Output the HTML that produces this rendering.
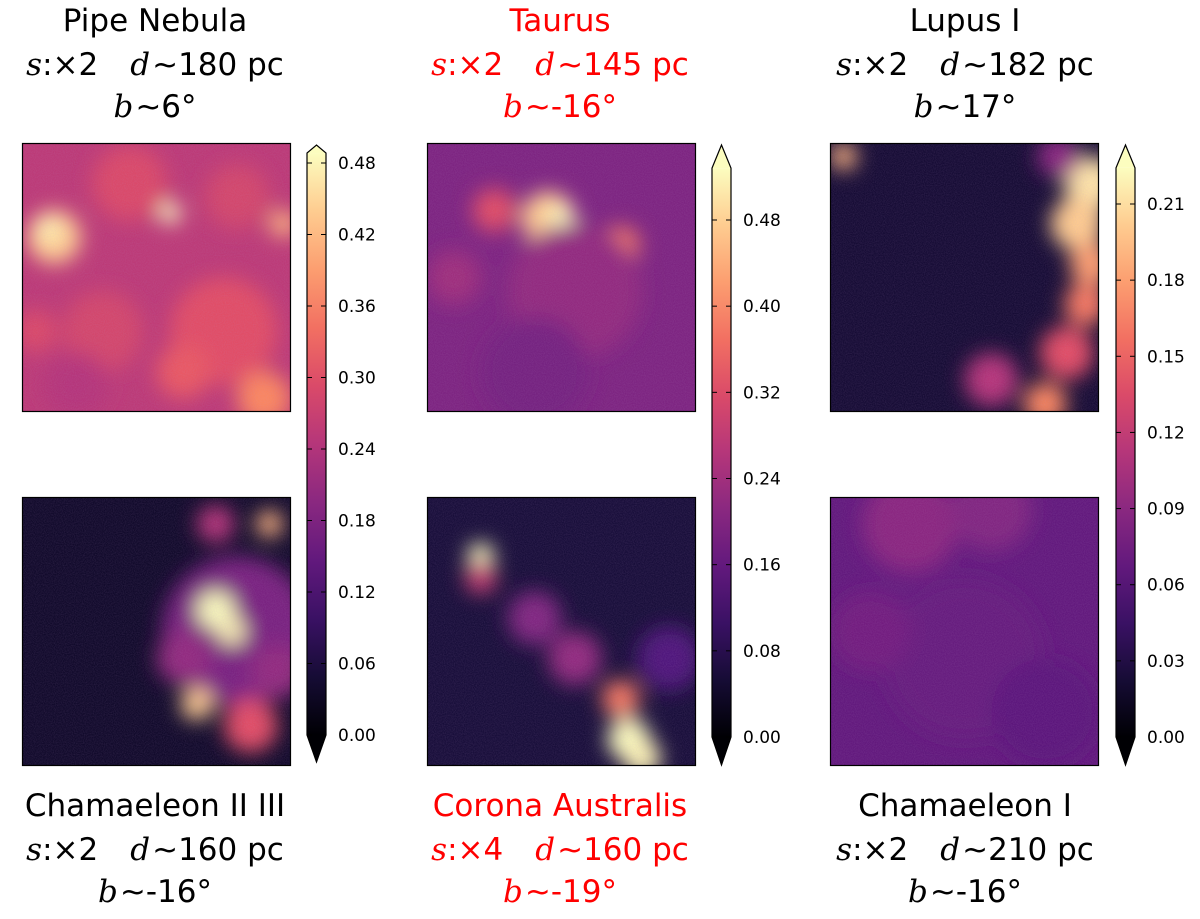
<!DOCTYPE html>
<html><head><meta charset="utf-8"><style>
body{margin:0;background:#fff;}
svg text{font-family:"DejaVu Sans","Liberation Sans",sans-serif;}
.m{font-family:"DejaVu Serif","Liberation Serif",serif;font-style:italic;}
</style></head><body>
<svg id="fig" width="1200" height="914" viewBox="0 0 1200 914" xmlns="http://www.w3.org/2000/svg">
<defs>
<filter id="blur" x="-50%" y="-50%" width="200%" height="200%"><feGaussianBlur stdDeviation="10"/></filter>
<filter id="noise"><feTurbulence type="fractalNoise" baseFrequency="0.9" numOctaves="2" seed="3"/><feColorMatrix type="matrix" values="0 0 0 0 0.5  0 0 0 0 0.3  0 0 0 0 0.6  0 0 0 0.9 -0.25"/></filter>
</defs>
<g id="root"></g>
</svg>
<script>
const magma=[[0,[0,0,4]],[0.13,[28,16,68]],[0.25,[79,18,123]],[0.38,[129,37,129]],[0.5,[181,54,122]],[0.63,[229,80,100]],[0.75,[251,135,97]],[0.88,[254,194,135]],[1,[252,253,191]]];
function cmap(t){t=Math.max(0,Math.min(1,t));for(let i=1;i<magma.length;i++){if(t<=magma[i][0]){const a=magma[i-1],b=magma[i];const f=(t-a[0])/(b[0]-a[0]);const c=a[1].map((v,k)=>Math.round(v+(b[1][k]-v)*f));return`rgb(${c})`;}}return'rgb(252,253,191)';}
const panelNames=["pipe-nebula","taurus","lupus-i","chamaeleon-ii-iii","corona-australis","chamaeleon-i"];
const panelBase=[0.52,0.37,0.10,0.08,0.11,0.30];
const blobsPipe=[[0.12,0.35,0.1,0.9],[0.1,0.32,0.05,0.97],[0.55,0.26,0.04,1],[0.97,0.3,0.05,0.85],[0.75,0.7,0.2,0.62],[0.3,0.7,0.15,0.58],[0.9,0.95,0.1,0.75],[0.4,0.15,0.14,0.6],[0.6,0.85,0.1,0.65],[0.2,0.9,0.12,0.5],[0.8,0.2,0.12,0.58],[0.05,0.7,0.08,0.6]];
const blobsTaurus=[[0.45,0.28,0.1,0.9],[0.5,0.28,0.05,1],[0.25,0.25,0.08,0.62],[0.72,0.38,0.07,0.72],[0.55,0.55,0.25,0.42],[0.1,0.5,0.1,0.45],[0.4,0.85,0.2,0.35]];
const blobsLupus=[[0.97,0.15,0.1,0.95],[0.92,0.3,0.1,0.9],[0.97,0.45,0.08,0.8],[0.95,0.6,0.08,0.72],[0.88,0.78,0.1,0.62],[0.6,0.88,0.1,0.5],[0.05,0.05,0.05,0.85],[0.85,0.05,0.08,0.4],[0.8,0.97,0.08,0.75]];
const blobsChaII=[[0.8,0.5,0.28,0.36],[0.72,0.42,0.07,1],[0.78,0.5,0.05,0.98],[0.65,0.77,0.06,0.9],[0.92,0.1,0.05,0.85],[0.85,0.85,0.1,0.62],[0.72,0.1,0.07,0.5],[0.95,0.65,0.1,0.42],[0.6,0.6,0.1,0.42]];
const blobsCrA=[[0.2,0.22,0.05,1],[0.2,0.3,0.06,0.55],[0.4,0.45,0.1,0.38],[0.55,0.6,0.1,0.42],[0.75,0.9,0.08,1],[0.72,0.75,0.07,0.72],[0.8,0.97,0.07,0.98],[0.9,0.6,0.12,0.25]];
const blobsChaI=[[0.3,0.1,0.18,0.4],[0.6,0.05,0.15,0.38],[0.5,0.6,0.3,0.31],[0.15,0.5,0.15,0.34],[0.8,0.8,0.2,0.28]];
const panelBlobs=[blobsPipe,blobsTaurus,blobsLupus,blobsChaII,blobsCrA,blobsChaI];
const panelX=[22,427,830,22,427,830], panelY=[143,143,143,497,497,497], S=269;
const cbTicks1=["0.00","0.06","0.12","0.18","0.24","0.30","0.36","0.42","0.48"];
const cbTicks2=["0.00","0.08","0.16","0.24","0.32","0.40","0.48"];
const cbTicks3=["0.00","0.03","0.06","0.09","0.12","0.15","0.18","0.21"];
const cbMax=[0.49,0.53,0.225];
const cbTicks=[cbTicks1,cbTicks2,cbTicks3];
const cbX=[307,712,1116],cbTip=[145,145,145],cbBot=[762,765,765],cbZero=[735,737,737];
const cbTopVal=[[0.48,163],[0.48,220],[0.21,204]];
const titles=[["Pipe Nebula","2","180","6"],["Taurus","2","145","-16"],["Lupus I","2","182","17"],["Chamaeleon II III","2","160","-16"],["Corona Australis","4","160","-19"],["Chamaeleon I","2","210","-16"]];
const titleCx=[155,560,965,155,560,965];
const NS="http://www.w3.org/2000/svg";const root=document.getElementById('root');
function mk(t,a,p){const e=document.createElementNS(NS,t);for(const k in a)e.setAttribute(k,a[k]);(p||root).appendChild(e);return e;}
for(let i=0;i<6;i++){
  const g=mk('g',{});
  
  
  const cp=mk('clipPath',{id:'c'+i},g);mk('rect',{x:panelX[i],y:panelY[i],width:S,height:S},cp);
  const inner=mk('g',{'clip-path':'url(#c'+i+')'},g);
  mk('rect',{x:panelX[i],y:panelY[i],width:S,height:S,fill:cmap(panelBase[i])},inner);
  const bg=mk('g',{filter:'url(#blur)'},inner);
  panelBlobs[i].forEach(b=>{const c=mk('circle',{cx:panelX[i]+b[0]*S,cy:panelY[i]+b[1]*S,r:b[2]*S,fill:cmap(b[3])},bg);
    
    });
  mk('rect',{x:panelX[i],y:panelY[i],width:S,height:S,filter:'url(#noise)',opacity:0.25},inner);
  mk('rect',{x:panelX[i]+0.5,y:panelY[i]+0.5,width:S-1,height:S-1,fill:'none',stroke:'#000','stroke-width':1.2},g);
  const top=i<3, y0=top?31:816, col=(i==1||i==4)?'#ff0000':'#000';
  const t=titles[i];
  const l1=mk('text',{x:titleCx[i],y:y0,'text-anchor':'middle','font-size':31,fill:col});l1.textContent=t[0];
  
  
  const l2=mk('text',{x:titleCx[i],y:y0+44,'text-anchor':'middle','font-size':31,fill:col});
  l2.innerHTML=`<tspan class="m">s</tspan>:×${t[1]}<tspan dx="32" class="m">d</tspan><tspan dx="2">∼</tspan>${t[2]} pc`;
  
  
  const l3=mk('text',{x:titleCx[i],y:y0+86,'text-anchor':'middle','font-size':31,fill:col});
  l3.innerHTML=`<tspan class="m">b</tspan><tspan dx="2">∼</tspan>${t[3]}°`;
  
  
}
for(let j=0;j<3;j++){
  const g=mk('g',{});
  
  
  const x=cbX[j],w=19,z=cbZero[j];
  const pxPer=(z-cbTopVal[j][1])/cbTopVal[j][0];
  const yOf=v=>z-v*pxPer;
  const rectTop=yOf(cbMax[j])+2, rectBot=z;
  const gid='gr'+j;const lg=mk('linearGradient',{id:gid,x1:0,y1:1,x2:0,y2:0},g);
  for(let k=0;k<=10;k++)mk('stop',{offset:k/10,'stop-color':cmap(k/10)},lg);
  mk('rect',{x,y:rectTop,width:w,height:rectBot-rectTop,fill:`url(#${gid})`},g);
  mk('path',{d:`M${x},${rectTop} L${x+w/2},${cbTip[j]} L${x+w},${rectTop}Z`,fill:cmap(1)},g);
  mk('path',{d:`M${x},${rectBot} L${x+w/2},${cbBot[j]} L${x+w},${rectBot}Z`,fill:cmap(0)},g);
  mk('path',{d:`M${x},${rectBot} L${x},${rectTop} L${x+w/2},${cbTip[j]} L${x+w},${rectTop} L${x+w},${rectBot} L${x+w/2},${cbBot[j]}Z`,fill:'none',stroke:'#000','stroke-width':1.2},g);
  cbTicks[j].forEach(s=>{const v=parseFloat(s),y=yOf(v);
    mk('line',{x1:x+w-5,x2:x+w,y1:y,y2:y,stroke:'#000'},g);mk('line',{x1:x,x2:x+5,y1:y,y2:y,stroke:'#000'},g);
    const tx=mk('text',{x:x+w+12,y:y+6,'font-size':17,fill:'#000'},g);tx.textContent=s;
    
    });
}
</script>
</body></html>
